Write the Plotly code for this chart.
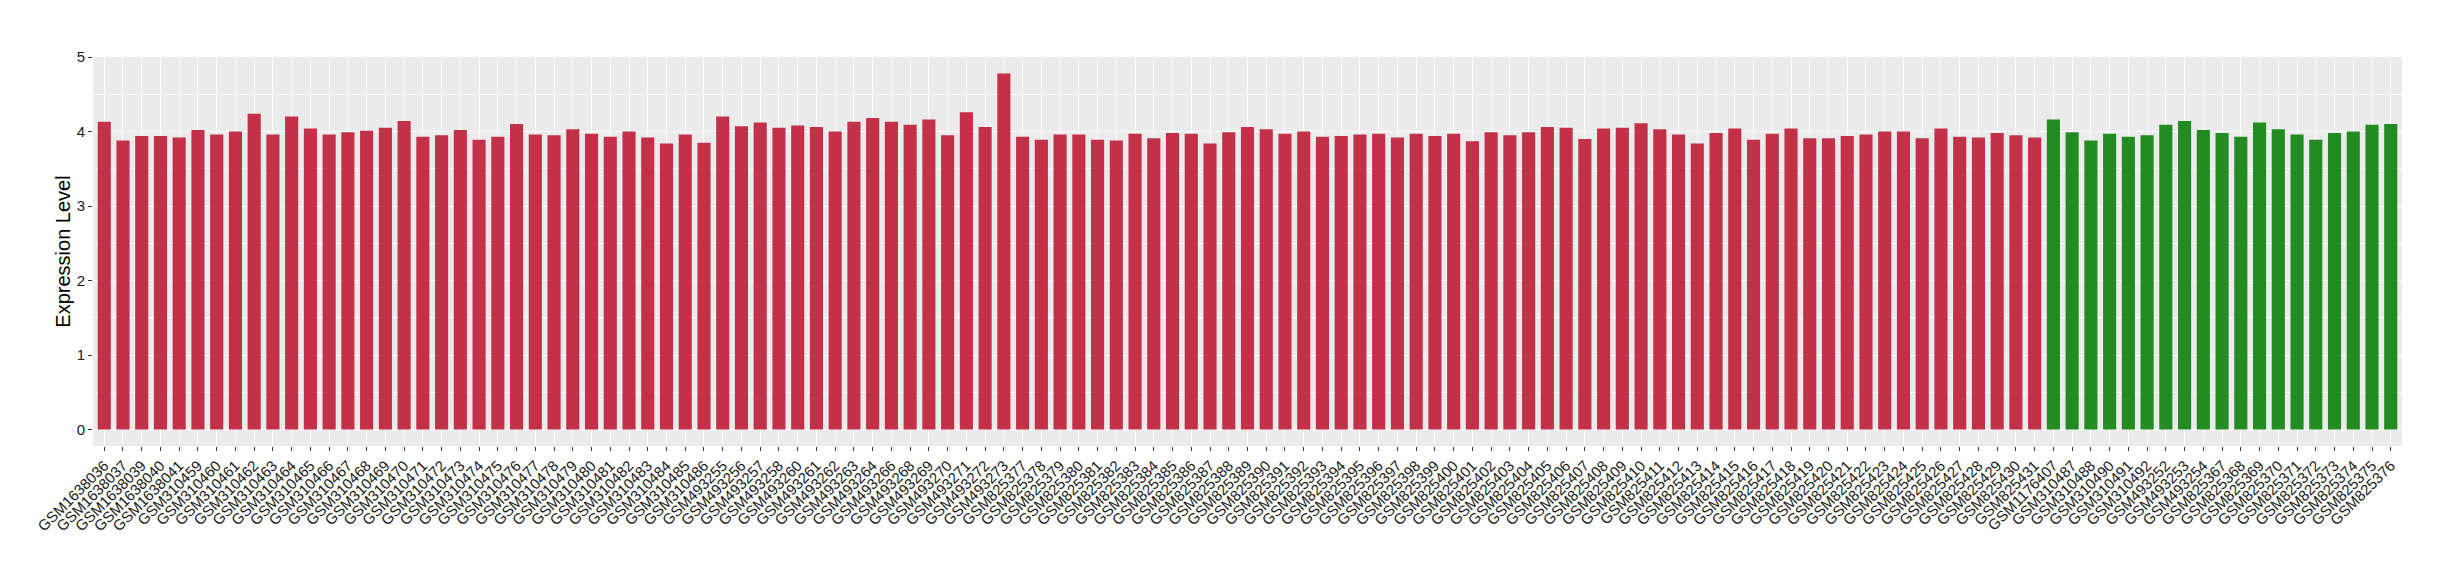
import plotly.graph_objects as go

red_samples = (
    ["GSM1638036", "GSM1638037", "GSM1638039", "GSM1638040", "GSM1638041"]
    + ["GSM3104%02d" % i for i in range(59, 87)]
    + ["GSM493255", "GSM493256", "GSM493257", "GSM493258", "GSM493260", "GSM493261",
       "GSM493262", "GSM493263", "GSM493264", "GSM493266", "GSM493268", "GSM493269",
       "GSM493270", "GSM493271", "GSM493272", "GSM493273"]
    + ["GSM825%d" % i for i in range(377, 432)]
)
green_samples = (
    ["GSM1176407", "GSM310487", "GSM310488", "GSM310490", "GSM310491", "GSM310492",
     "GSM493252", "GSM493253", "GSM493254"]
    + ["GSM8253%d" % i for i in range(67, 77)]
)

red_values = [
    4.13, 3.88, 3.94, 3.94, 3.92, 4.02, 3.96, 4.00, 4.24, 3.96, 4.20,
    4.04, 3.96, 3.99, 4.01, 4.05, 4.14, 3.93, 3.95, 4.02, 3.89, 3.93,
    4.10, 3.96, 3.95, 4.03, 3.97, 3.93, 4.00, 3.92, 3.84, 3.96, 3.85,
    4.20, 4.07, 4.12, 4.05, 4.08, 4.06, 4.00, 4.13, 4.18, 4.13, 4.09,
    4.16, 3.95, 4.26, 4.06, 4.78,
    3.93, 3.89, 3.96, 3.96, 3.89, 3.88, 3.97, 3.91, 3.98, 3.97, 3.84,
    3.99, 4.06, 4.03, 3.97, 4.00, 3.93, 3.94, 3.96, 3.97, 3.92, 3.97,
    3.94, 3.97, 3.87, 3.99, 3.95, 3.99, 4.06, 4.05, 3.90, 4.04, 4.05,
    4.11, 4.03, 3.96, 3.84, 3.98, 4.04, 3.89, 3.97, 4.04, 3.91, 3.91,
    3.94, 3.96, 4.00, 4.00, 3.91, 4.04, 3.93, 3.92, 3.98, 3.95, 3.92,
]
green_values = [
    4.16, 3.99, 3.88, 3.97, 3.93, 3.95, 4.09, 4.14, 4.02,
    3.98, 3.93, 4.12, 4.03, 3.96, 3.89, 3.98, 4.00, 4.09, 4.10,
]

y_ticks = [0, 1, 2, 3, 4, 5]
y_label = "Expression Level"

RED = "#C33149"
GREEN = "#228B22"

samples = red_samples + green_samples
values = red_values + green_values
colors = [RED] * len(red_samples) + [GREEN] * len(green_samples)

fig = go.Figure()
fig.add_trace(go.Bar(
    x=samples, y=values, marker=dict(color=colors, line=dict(width=0)),
    width=0.7, showlegend=False,
))

font = "Liberation Sans, Arial, Helvetica, sans-serif"
fig.update_layout(
    width=2460, height=580,
    margin=dict(l=85, r=66, t=49, b=142),
    paper_bgcolor="white", plot_bgcolor="#EBEBEB",
    font=dict(family=font, color="black", size=14),
    bargap=0.3,
)
fig.update_xaxes(
    type="category", categoryorder="array", categoryarray=samples,
    range=[-0.6, len(samples) - 0.4], automargin=False,
    tickangle=-45, tickfont=dict(size=15, color="#1a1a1a"),
    showgrid=True, gridcolor="white", gridwidth=1.1,
    ticks="outside", ticklen=4, tickcolor="#333333", tickwidth=1,
    showline=False, zeroline=False,
)
fig.update_yaxes(
    range=[-0.22, 5.0], tickvals=y_ticks, ticktext=[str(t) for t in y_ticks],
    automargin=False,
    tickfont=dict(size=15, color="#1a1a1a"),
    showgrid=True, gridcolor="white", gridwidth=1.1,
    minor=dict(dtick=0.5, showgrid=True, gridcolor="white", gridwidth=0.5, ticks=""),
    ticks="outside", ticklen=4, tickcolor="#333333", tickwidth=1,
    showline=False, zeroline=False,
    title=dict(text=y_label, font=dict(size=20, color="black"), standoff=0),
)

fig.write_html("out.html")
